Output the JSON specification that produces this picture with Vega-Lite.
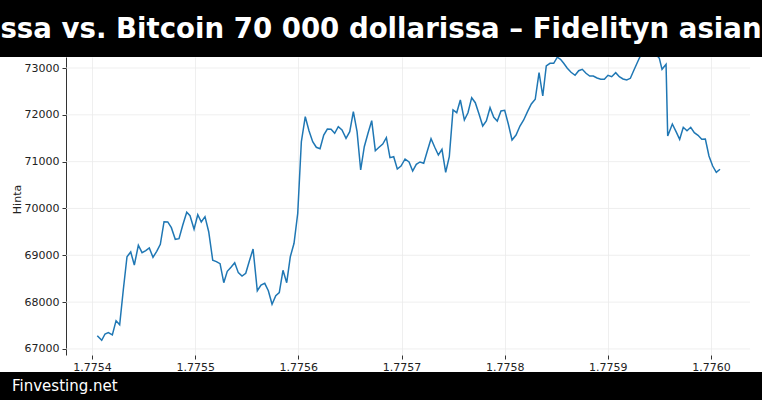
{
  "$schema": "https://vega.github.io/schema/vega-lite/v6.json",
  "background": "white",
  "padding": 0,
  "spacing": 0,
  "datasets": {
    "price": [
      {"t": 1.7754051, "v": 67284}, {"t": 1.7754094, "v": 67185}, {"t": 1.7754126, "v": 67320}, {"t": 1.7754158, "v": 67348},
      {"t": 1.7754197, "v": 67299}, {"t": 1.7754233, "v": 67604}, {"t": 1.7754268, "v": 67518}, {"t": 1.7754303, "v": 68259},
      {"t": 1.7754339, "v": 68970}, {"t": 1.7754375, "v": 69071}, {"t": 1.775441, "v": 68793}, {"t": 1.7754449, "v": 69214},
      {"t": 1.7754485, "v": 69056}, {"t": 1.7754521, "v": 69099}, {"t": 1.7754555, "v": 69156}, {"t": 1.7754591, "v": 68958},
      {"t": 1.7754627, "v": 69086}, {"t": 1.7754662, "v": 69235}, {"t": 1.7754698, "v": 69718}, {"t": 1.7754734, "v": 69712},
      {"t": 1.7754769, "v": 69590}, {"t": 1.7754807, "v": 69342}, {"t": 1.7754843, "v": 69355}, {"t": 1.7754879, "v": 69641},
      {"t": 1.7754918, "v": 69919}, {"t": 1.775495, "v": 69846}, {"t": 1.7754989, "v": 69556}, {"t": 1.7755025, "v": 69867},
      {"t": 1.7755059, "v": 69712}, {"t": 1.7755095, "v": 69825}, {"t": 1.7755131, "v": 69504}, {"t": 1.775517, "v": 68894},
      {"t": 1.7755205, "v": 68864}, {"t": 1.7755241, "v": 68821}, {"t": 1.7755277, "v": 68415}, {"t": 1.7755311, "v": 68659},
      {"t": 1.7755347, "v": 68744}, {"t": 1.7755383, "v": 68842}, {"t": 1.7755418, "v": 68629}, {"t": 1.7755454, "v": 68558},
      {"t": 1.775549, "v": 68616}, {"t": 1.7755525, "v": 68879}, {"t": 1.7755561, "v": 69135}, {"t": 1.7755602, "v": 68244},
      {"t": 1.7755638, "v": 68366}, {"t": 1.7755674, "v": 68402}, {"t": 1.7755709, "v": 68244}, {"t": 1.7755745, "v": 67954},
      {"t": 1.7755781, "v": 68138}, {"t": 1.7755815, "v": 68202}, {"t": 1.7755851, "v": 68680}, {"t": 1.7755887, "v": 68415},
      {"t": 1.7755922, "v": 68970}, {"t": 1.7755958, "v": 69257}, {"t": 1.7755994, "v": 69897}, {"t": 1.7756029, "v": 71426},
      {"t": 1.7756067, "v": 71960}, {"t": 1.7756103, "v": 71661}, {"t": 1.7756139, "v": 71426}, {"t": 1.7756174, "v": 71307},
      {"t": 1.775621, "v": 71277}, {"t": 1.7756246, "v": 71569}, {"t": 1.7756281, "v": 71697}, {"t": 1.7756317, "v": 71691},
      {"t": 1.7756352, "v": 71606}, {"t": 1.7756387, "v": 71747}, {"t": 1.7756423, "v": 71676}, {"t": 1.7756462, "v": 71499},
      {"t": 1.7756498, "v": 71640}, {"t": 1.7756533, "v": 72067}, {"t": 1.7756569, "v": 71640}, {"t": 1.7756604, "v": 70822},
      {"t": 1.7756639, "v": 71319}, {"t": 1.7756675, "v": 71606}, {"t": 1.7756711, "v": 71875}, {"t": 1.7756746, "v": 71234},
      {"t": 1.7756782, "v": 71307}, {"t": 1.7756818, "v": 71377}, {"t": 1.7756853, "v": 71512}, {"t": 1.7756888, "v": 71085},
      {"t": 1.7756924, "v": 71106}, {"t": 1.7756959, "v": 70843}, {"t": 1.7756995, "v": 70907}, {"t": 1.7757034, "v": 71057},
      {"t": 1.7757073, "v": 70993}, {"t": 1.7757108, "v": 70800}, {"t": 1.7757143, "v": 70944}, {"t": 1.7757179, "v": 70993},
      {"t": 1.7757215, "v": 70965}, {"t": 1.775725, "v": 71228}, {"t": 1.7757286, "v": 71490}, {"t": 1.7757322, "v": 71307},
      {"t": 1.7757357, "v": 71142}, {"t": 1.7757392, "v": 71264}, {"t": 1.7757428, "v": 70773}, {"t": 1.7757463, "v": 71106},
      {"t": 1.7757499, "v": 72103}, {"t": 1.7757535, "v": 72045}, {"t": 1.775757, "v": 72317}, {"t": 1.7757609, "v": 71890},
      {"t": 1.7757644, "v": 72045}, {"t": 1.775768, "v": 72366}, {"t": 1.7757715, "v": 72259}, {"t": 1.7757751, "v": 72018},
      {"t": 1.7757787, "v": 71761}, {"t": 1.7757822, "v": 71868}, {"t": 1.7757858, "v": 72152}, {"t": 1.7757894, "v": 71947},
      {"t": 1.7757928, "v": 71868}, {"t": 1.7757964, "v": 72082}, {"t": 1.7758, "v": 72097}, {"t": 1.7758035, "v": 71804},
      {"t": 1.7758071, "v": 71463}, {"t": 1.775811, "v": 71569}, {"t": 1.7758148, "v": 71761}, {"t": 1.7758184, "v": 71890},
      {"t": 1.7758221, "v": 72067}, {"t": 1.7758258, "v": 72231}, {"t": 1.7758296, "v": 72332}, {"t": 1.7758333, "v": 72900},
      {"t": 1.7758369, "v": 72402}, {"t": 1.7758403, "v": 73043}, {"t": 1.7758439, "v": 73100}, {"t": 1.7758475, "v": 73100},
      {"t": 1.775851, "v": 73230}, {"t": 1.7758541, "v": 73186}, {"t": 1.7758572, "v": 73100}, {"t": 1.7758607, "v": 72994},
      {"t": 1.7758643, "v": 72908}, {"t": 1.7758682, "v": 72844}, {"t": 1.7758717, "v": 72942}, {"t": 1.7758752, "v": 72972},
      {"t": 1.7758788, "v": 72887}, {"t": 1.7758824, "v": 72829}, {"t": 1.7758859, "v": 72829}, {"t": 1.7758895, "v": 72786},
      {"t": 1.7758931, "v": 72759}, {"t": 1.7758966, "v": 72759}, {"t": 1.7759001, "v": 72844}, {"t": 1.7759037, "v": 72814},
      {"t": 1.7759076, "v": 72900}, {"t": 1.7759111, "v": 72814}, {"t": 1.7759147, "v": 72765}, {"t": 1.7759183, "v": 72744},
      {"t": 1.7759218, "v": 72780}, {"t": 1.7759253, "v": 72957}, {"t": 1.7759289, "v": 73135}, {"t": 1.7759324, "v": 73300},
      {"t": 1.775936, "v": 73420}, {"t": 1.7759396, "v": 73465}, {"t": 1.7759431, "v": 73400}, {"t": 1.7759467, "v": 73290},
      {"t": 1.7759499, "v": 73207}, {"t": 1.7759525, "v": 72972}, {"t": 1.7759564, "v": 73079}, {"t": 1.775958, "v": 71548},
      {"t": 1.7759625, "v": 71804}, {"t": 1.7759661, "v": 71640}, {"t": 1.7759696, "v": 71477}, {"t": 1.7759731, "v": 71734},
      {"t": 1.7759767, "v": 71661}, {"t": 1.7759803, "v": 71734}, {"t": 1.7759838, "v": 71618}, {"t": 1.7759874, "v": 71563},
      {"t": 1.775991, "v": 71477}, {"t": 1.7759945, "v": 71484}, {"t": 1.775998, "v": 71121}, {"t": 1.7760016, "v": 70907},
      {"t": 1.7760051, "v": 70773}, {"t": 1.7760087, "v": 70837}
    ],
    "gridvals": [
      {"g": 67000}, {"g": 68000}, {"g": 69000}, {"g": 70000}, {"g": 71000}, {"g": 72000}, {"g": 73000}
    ]
  },
  "vconcat": [
    {
      "width": 762,
      "height": 57,
      "view": {"fill": "black", "stroke": null},
      "data": {"values": [{"label": "ssa vs. Bitcoin 70 000 dollarissa – Fidelityn asian"}]},
      "mark": {"type": "text", "color": "white", "font": "DejaVu Sans", "fontWeight": "bold", "fontSize": 27.6, "baseline": "middle", "align": "center", "dy": 1},
      "encoding": {"text": {"field": "label"}}
    },
    {
      "width": 762,
      "height": 298,
      "layer": [
        {
          "data": {"name": "gridvals"},
          "mark": {"type": "rule", "color": "#ebebeb", "strokeWidth": 0.8},
          "encoding": {
            "y": {"field": "g", "type": "quantitative", "title": "Hinta", "scale": {"domain": [66871, 73235], "nice": false, "zero": false}},
            "x": {"datum": 1.7753748, "type": "quantitative", "scale": {"domain": [1.7753108, 1.7760494], "nice": false, "zero": false}},
            "x2": {"datum": 1.7760378}
          }
        },
        {
          "data": {"name": "price"},
          "mark": {"type": "line", "color": "#1f77b4", "strokeWidth": 1.5, "clip": true},
          "encoding": {
            "x": {
              "field": "t", "type": "quantitative",
              "scale": {"domain": [1.7753108, 1.7760494], "nice": false, "zero": false},
              "axis": {"title": null, "values": [1.7754, 1.7755, 1.7756, 1.7757, 1.7758, 1.7759, 1.776], "format": ".4f", "labelPadding": 2}
            },
            "y": {
              "field": "v", "type": "quantitative",
              "scale": {"domain": [66871, 73235], "nice": false, "zero": false},
              "axis": {"title": "Hinta", "values": [67000, 68000, 69000, 70000, 71000, 72000, 73000], "format": "d", "offset": -66, "titlePadding": 2, "titleY": 142}
            }
          }
        },
        {
          "mark": {"type": "rule", "color": "#333", "strokeWidth": 1},
          "encoding": {
            "x": {"datum": 1.7760378, "type": "quantitative", "scale": {"domain": [1.7753108, 1.7760494], "nice": false, "zero": false}},
            "y": {"datum": 66871, "type": "quantitative", "title": "Hinta", "scale": {"domain": [66871, 73235], "nice": false, "zero": false}},
            "y2": {"datum": 73235}
          }
        },
        {
          "mark": {"type": "rule", "color": "#333", "strokeWidth": 1},
          "encoding": {
            "x": {"datum": 1.7753748, "type": "quantitative", "scale": {"domain": [1.7753108, 1.7760494], "nice": false, "zero": false}},
            "x2": {"datum": 1.7760378},
            "y": {"datum": 66871, "type": "quantitative", "title": "Hinta", "scale": {"domain": [66871, 73235], "nice": false, "zero": false}}
          }
        }
      ]
    },
    {
      "width": 762,
      "height": 28,
      "view": {"fill": "black", "stroke": null},
      "data": {"values": [{"s": "Finvesting.net"}]},
      "mark": {"type": "text", "color": "white", "font": "DejaVu Sans", "fontSize": 15, "align": "left", "baseline": "middle", "dx": 12, "dy": 0},
      "encoding": {
        "text": {"field": "s"},
        "x": {"datum": 0, "type": "quantitative", "scale": {"domain": [0, 1], "nice": false, "zero": false}, "axis": null}
      }
    }
  ],
  "config": {
    "font": "DejaVu Sans",
    "view": {"stroke": null},
    "axis": {
      "labelFont": "DejaVu Sans", "labelFontSize": 11, "labelColor": "#222",
      "tickColor": "#333", "tickSize": 4, "tickWidth": 1,
      "domainColor": "#333", "domainWidth": 1,
      "titleFont": "DejaVu Sans", "titleFontSize": 11, "titleFontWeight": "normal", "titleColor": "#222",
      "gridColor": "#ebebeb", "gridWidth": 0.8, "labelPadding": 3
    },
    "axisX": {"grid": true, "domain": false},
    "axisY": {"grid": false}
  }
}
